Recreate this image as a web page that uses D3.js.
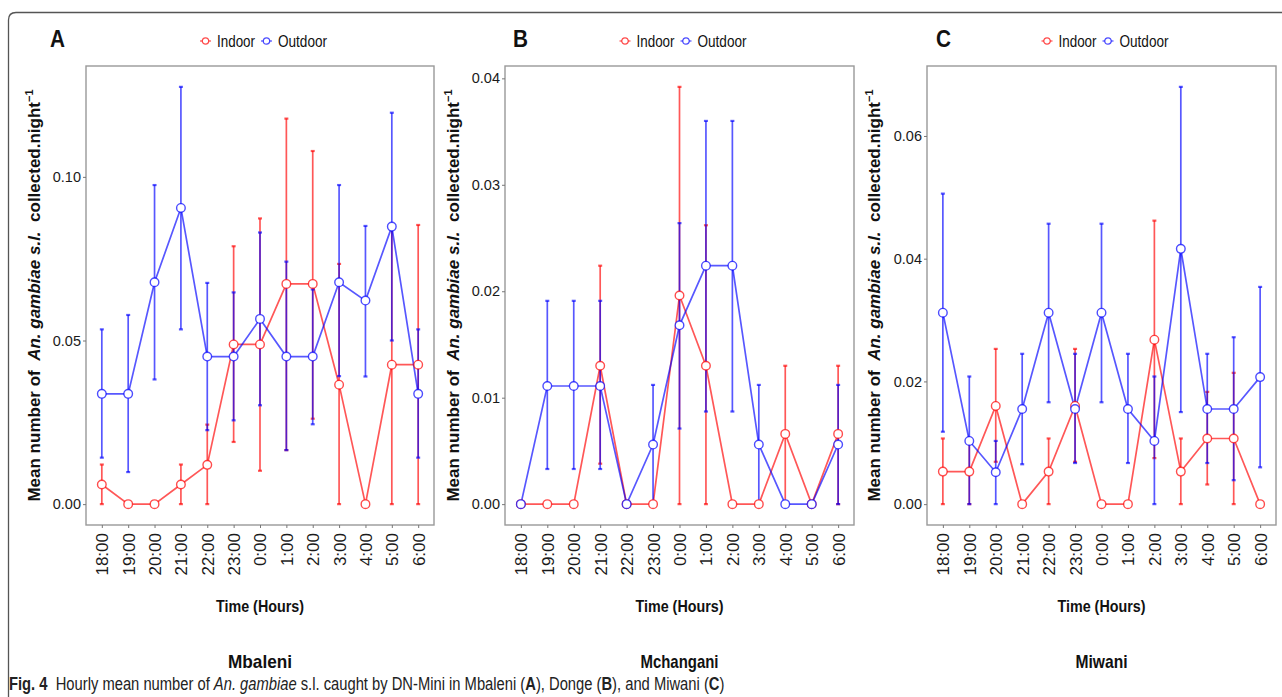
<!DOCTYPE html>
<html>
<head>
<meta charset="utf-8">
<script src="https://cdn.jsdelivr.net/npm/d3@7"></script>
<style>
  html, body { margin: 0; padding: 0; background: #fff; }
  svg { display: block; font-family: "Liberation Sans", Arial, Helvetica, sans-serif; }
</style>
</head>
<body>
<svg id="chart" width="1282" height="697"></svg>
<script>
// ---------- DATA ----------
const hours = ["18:00","19:00","20:00","21:00","22:00","23:00","0:00","1:00","2:00","3:00","4:00","5:00","6:00"];
const seriesNames = ["Indoor", "Outdoor"];
const panelLetters = ["A", "B", "C"];
const villages = ["Mbaleni", "Mchangani", "Miwani"];

// Panel A – Mbaleni
const aIndoorMean  = [0.006, 0, 0, 0.006, 0.012, 0.0488, 0.0488, 0.0673, 0.0673, 0.0365, 0, 0.0426, 0.0426];
const aIndoorLow   = [0, 0, 0, 0, 0, 0.019, 0.0102, 0.0165, 0.0261, 0, 0, 0, 0];
const aIndoorHigh  = [0.0121, 0, 0, 0.0121, 0.0243, 0.0788, 0.0873, 0.1178, 0.1079, 0.0734, 0, 0.0853, 0.0853];
const aOutdoorMean = [0.0337, 0.0337, 0.0678, 0.0905, 0.0451, 0.0451, 0.0566, 0.0451, 0.0451, 0.0678, 0.0622, 0.0848, 0.0337];
const aOutdoorLow  = [0.0142, 0.0098, 0.0381, 0.0534, 0.0226, 0.0256, 0.0302, 0.0165, 0.0244, 0.0391, 0.039, 0.050, 0.0142];
const aOutdoorHigh = [0.0534, 0.0578, 0.0975, 0.1275, 0.0676, 0.0647, 0.083, 0.0741, 0.0656, 0.0975, 0.085, 0.1196, 0.0534];
const aTicks = [0.00, 0.05, 0.10];

// Panel B – Mchangani
const bIndoorMean  = [0, 0, 0, 0.013, 0, 0, 0.0196, 0.013, 0, 0, 0.0066, 0, 0.0066];
const bIndoorLow   = [0, 0, 0, 0.0038, 0, 0, 0, 0, 0, 0, 0, 0, 0];
const bIndoorHigh  = [0, 0, 0, 0.0224, 0, 0, 0.0392, 0.0262, 0, 0, 0.013, 0, 0.013];
const bOutdoorMean = [0, 0.0111, 0.0111, 0.0111, 0, 0.0056, 0.0168, 0.0224, 0.0224, 0.0056, 0, 0, 0.0056];
const bOutdoorLow  = [0, 0.0033, 0.0033, 0.0033, 0, 0, 0.0071, 0.0087, 0.0087, 0, 0, 0, 0];
const bOutdoorHigh = [0, 0.0191, 0.0191, 0.0191, 0, 0.0112, 0.0264, 0.036, 0.036, 0.0112, 0, 0, 0.0112];
const bTicks = [0.00, 0.01, 0.02, 0.03, 0.04];

// Panel C – Miwani
const cIndoorMean  = [0.0053, 0.0053, 0.016, 0, 0.0053, 0.016, 0, 0, 0.0268, 0.0053, 0.0107, 0.0107, 0];
const cIndoorLow   = [0, 0, 0.0069, 0, 0, 0.0069, 0, 0, 0.0075, 0, 0.0032, 0, 0];
const cIndoorHigh  = [0.0107, 0.0107, 0.0253, 0, 0.0107, 0.0253, 0, 0, 0.0462, 0.0107, 0.0183, 0.0214, 0];
const cOutdoorMean = [0.0312, 0.0103, 0.0052, 0.0155, 0.0312, 0.0155, 0.0312, 0.0155, 0.0103, 0.0416, 0.0155, 0.0155, 0.0207];
const cOutdoorLow  = [0.0118, 0, 0, 0.0065, 0.0166, 0.0067, 0.0166, 0.0067, 0, 0.015, 0.0067, 0.0039, 0.006];
const cOutdoorHigh = [0.0506, 0.0208, 0.0103, 0.0245, 0.0457, 0.0245, 0.0457, 0.0245, 0.0208, 0.068, 0.0245, 0.0272, 0.0354];
const cTicks = [0.00, 0.02, 0.04, 0.06];

// ---------- LAYOUT / STYLE ----------
const svg = d3.select("#chart");
const colors = { Indoor: "#ff0000", Outdoor: "#0000ff" };
const seriesOpacity = 0.66;
const plotTop = 66, plotBottom = 525;
const panels = [
  { left: 86,  right: 434,  ylabX: 40,  letterX: 50,
    series: [[aIndoorMean, aIndoorLow, aIndoorHigh], [aOutdoorMean, aOutdoorLow, aOutdoorHigh]], ticks: aTicks },
  { left: 505, right: 854,  ylabX: 459, letterX: 513,
    series: [[bIndoorMean, bIndoorLow, bIndoorHigh], [bOutdoorMean, bOutdoorLow, bOutdoorHigh]], ticks: bTicks },
  { left: 927, right: 1276, ylabX: 880, letterX: 936,
    series: [[cIndoorMean, cIndoorLow, cIndoorHigh], [cOutdoorMean, cOutdoorLow, cOutdoorHigh]], ticks: cTicks }
];
const villageWidths = [64, 78, 52];
const legendWidths = { Indoor: 38, Outdoor: 49 };

function condense(sel, w) {
  return sel.attr("textLength", w).attr("lengthAdjust", "spacingAndGlyphs");
}

// outer frame (rounded top-left corner)
svg.append("path")
  .attr("d", "M8.5,697 V20 Q8.5,12.5 16,12.5 H1282")
  .attr("fill", "none").attr("stroke", "#555").attr("stroke-width", 1.3);

panels.forEach((p, pi) => {
  const g = svg.append("g");
  const allHigh = d3.max(p.series.flatMap(s => s[2]));
  const allLow = Math.min(0, d3.min(p.series.flatMap(s => s[1])));
  const span = allHigh - allLow;
  const y = d3.scaleLinear().domain([allLow - 0.05 * span, allHigh + 0.05 * span]).range([plotBottom, plotTop]);
  const x = d3.scalePoint().domain(hours).range([p.left, p.right]).padding(0.6);

  // panel background + border
  g.append("rect").attr("x", p.left).attr("y", plotTop)
    .attr("width", p.right - p.left).attr("height", plotBottom - plotTop)
    .attr("fill", "#fff").attr("stroke", "#999").attr("stroke-width", 1.4);

  // y axis
  const yAxis = g.append("g").attr("transform", `translate(${p.left},0)`)
    .call(d3.axisLeft(y).tickValues(p.ticks).tickSize(3).tickPadding(2).tickFormat(d3.format(".2f")));
  yAxis.select(".domain").remove();
  yAxis.selectAll("line").attr("stroke", "#777");
  yAxis.selectAll("text").attr("font-size", 14.5).attr("fill", "#1a1a1a")
    .attr("font-family", "Liberation Sans, Arial, sans-serif");

  // x axis
  const xAxis = g.append("g").attr("transform", `translate(0,${plotBottom})`)
    .call(d3.axisBottom(x).tickSize(3).tickPadding(4));
  xAxis.select(".domain").remove();
  xAxis.selectAll("line").attr("stroke", "#777");
  xAxis.selectAll("text")
    .attr("font-size", 17).attr("fill", "#1a1a1a")
    .attr("font-family", "Liberation Sans, Arial, sans-serif")
    .attr("transform", "rotate(-90)")
    .attr("text-anchor", "end")
    .attr("x", -8).attr("y", 0).attr("dy", "0.35em");

  // series
  p.series.forEach((s, si) => {
    const name = seriesNames[si];
    const col = colors[name];
    const [mean, low, high] = s;
    const data = hours.map((h, i) => ({ h, m: mean[i], lo: low[i], hi: high[i] }));
    const sg = g.append("g").attr("class", "series-" + name);

    // error bars
    data.filter(d => d.hi > d.lo).forEach(d => {
      const cx = x(d.h);
      sg.append("line").attr("x1", cx).attr("x2", cx).attr("y1", y(d.lo)).attr("y2", y(d.hi))
        .attr("stroke", col).attr("stroke-opacity", seriesOpacity).attr("stroke-width", 1.7);
      [d.lo, d.hi].forEach(v => {
        sg.append("line").attr("x1", cx - 2).attr("x2", cx + 2).attr("y1", y(v)).attr("y2", y(v))
          .attr("stroke", col).attr("stroke-opacity", seriesOpacity).attr("stroke-width", 2.2);
      });
    });

    // line
    sg.append("path").datum(data)
      .attr("d", d3.line().x(d => x(d.h)).y(d => y(d.m)))
      .attr("fill", "none").attr("stroke", col).attr("stroke-opacity", seriesOpacity)
      .attr("stroke-width", 1.7);
  });

  // points on top
  p.series.forEach((s, si) => {
    const name = seriesNames[si];
    const col = colors[name];
    const mean = s[0];
    g.append("g").selectAll("circle").data(hours.map((h, i) => ({ h, m: mean[i] })))
      .join("circle")
      .attr("cx", d => x(d.h)).attr("cy", d => y(d.m)).attr("r", 4.3)
      .attr("fill", "#fff").attr("stroke", col).attr("stroke-opacity", 0.7).attr("stroke-width", 1.4);
  });

  // panel letter
  condense(svg.append("text").attr("x", p.letterX).attr("y", 47)
    .attr("font-size", 23).attr("font-weight", "bold").attr("fill", "#111")
    .text(panelLetters[pi]), 15);

  // legend
  const lg = svg.append("g").attr("transform", `translate(${(p.left + p.right) / 2 - 60},41)`);
  let lx = 0;
  seriesNames.forEach((name) => {
    const col = colors[name];
    lg.append("line").attr("x1", lx).attr("x2", lx + 11).attr("y1", 0).attr("y2", 0)
      .attr("stroke", col).attr("stroke-opacity", seriesOpacity).attr("stroke-width", 1.3);
    lg.append("circle").attr("cx", lx + 5.5).attr("cy", 0).attr("r", 3.2)
      .attr("fill", "#fff").attr("stroke", col).attr("stroke-opacity", 0.7).attr("stroke-width", 1.2);
    condense(lg.append("text").attr("x", lx + 17).attr("y", 6).attr("font-size", 16)
      .attr("fill", "#111").text(name), legendWidths[name]);
    lx += 17 + legendWidths[name] + 6;
  });

  // y label
  const cy = (plotTop + plotBottom) / 2;
  const yl = svg.append("text")
    .attr("transform", `translate(${p.ylabX},${cy}) rotate(-90)`)
    .attr("text-anchor", "middle").attr("font-size", 17).attr("font-weight", "bold").attr("fill", "#111");
  yl.append("tspan").text("Mean number of\u00A0\u00A0");
  yl.append("tspan").attr("font-style", "italic").text("An. gambiae s.l.");
  yl.append("tspan").text("\u00A0\u00A0collected.night");
  yl.append("tspan").attr("font-size", 11).attr("dy", -7).text("\u22121");

  // x label
  const mid = (p.left + p.right) / 2;
  condense(svg.append("text").attr("x", mid - 44).attr("y", 612)
    .attr("font-size", 17).attr("font-weight", "bold").attr("fill", "#111")
    .text("Time (Hours)"), 88);

  // village label
  condense(svg.append("text").attr("x", mid - villageWidths[pi] / 2).attr("y", 668)
    .attr("font-size", 19).attr("font-weight", "bold").attr("fill", "#111")
    .text(villages[pi]), villageWidths[pi]);
});

// caption (horizontally compressed to match the condensed journal font)
const capG = svg.append("g");
const cap = capG.append("text").attr("x", 0).attr("y", 0).attr("font-size", 18.5).attr("fill", "#222");
cap.append("tspan").attr("font-weight", "bold").text("Fig. 4");
cap.append("tspan").text("\u00A0\u00A0Hourly mean number of ");
cap.append("tspan").attr("font-style", "italic").text("An. gambiae");
cap.append("tspan").text(" s.l. caught by DN-Mini in Mbaleni (");
cap.append("tspan").attr("font-weight", "bold").text("A");
cap.append("tspan").text("), Donge (");
cap.append("tspan").attr("font-weight", "bold").text("B");
cap.append("tspan").text("), and Miwani (");
cap.append("tspan").attr("font-weight", "bold").text("C");
cap.append("tspan").text(")");
const capLen = cap.node().getComputedTextLength();
capG.attr("transform", `translate(9,690) scale(${716 / capLen},1)`);
</script>
</body>
</html>
